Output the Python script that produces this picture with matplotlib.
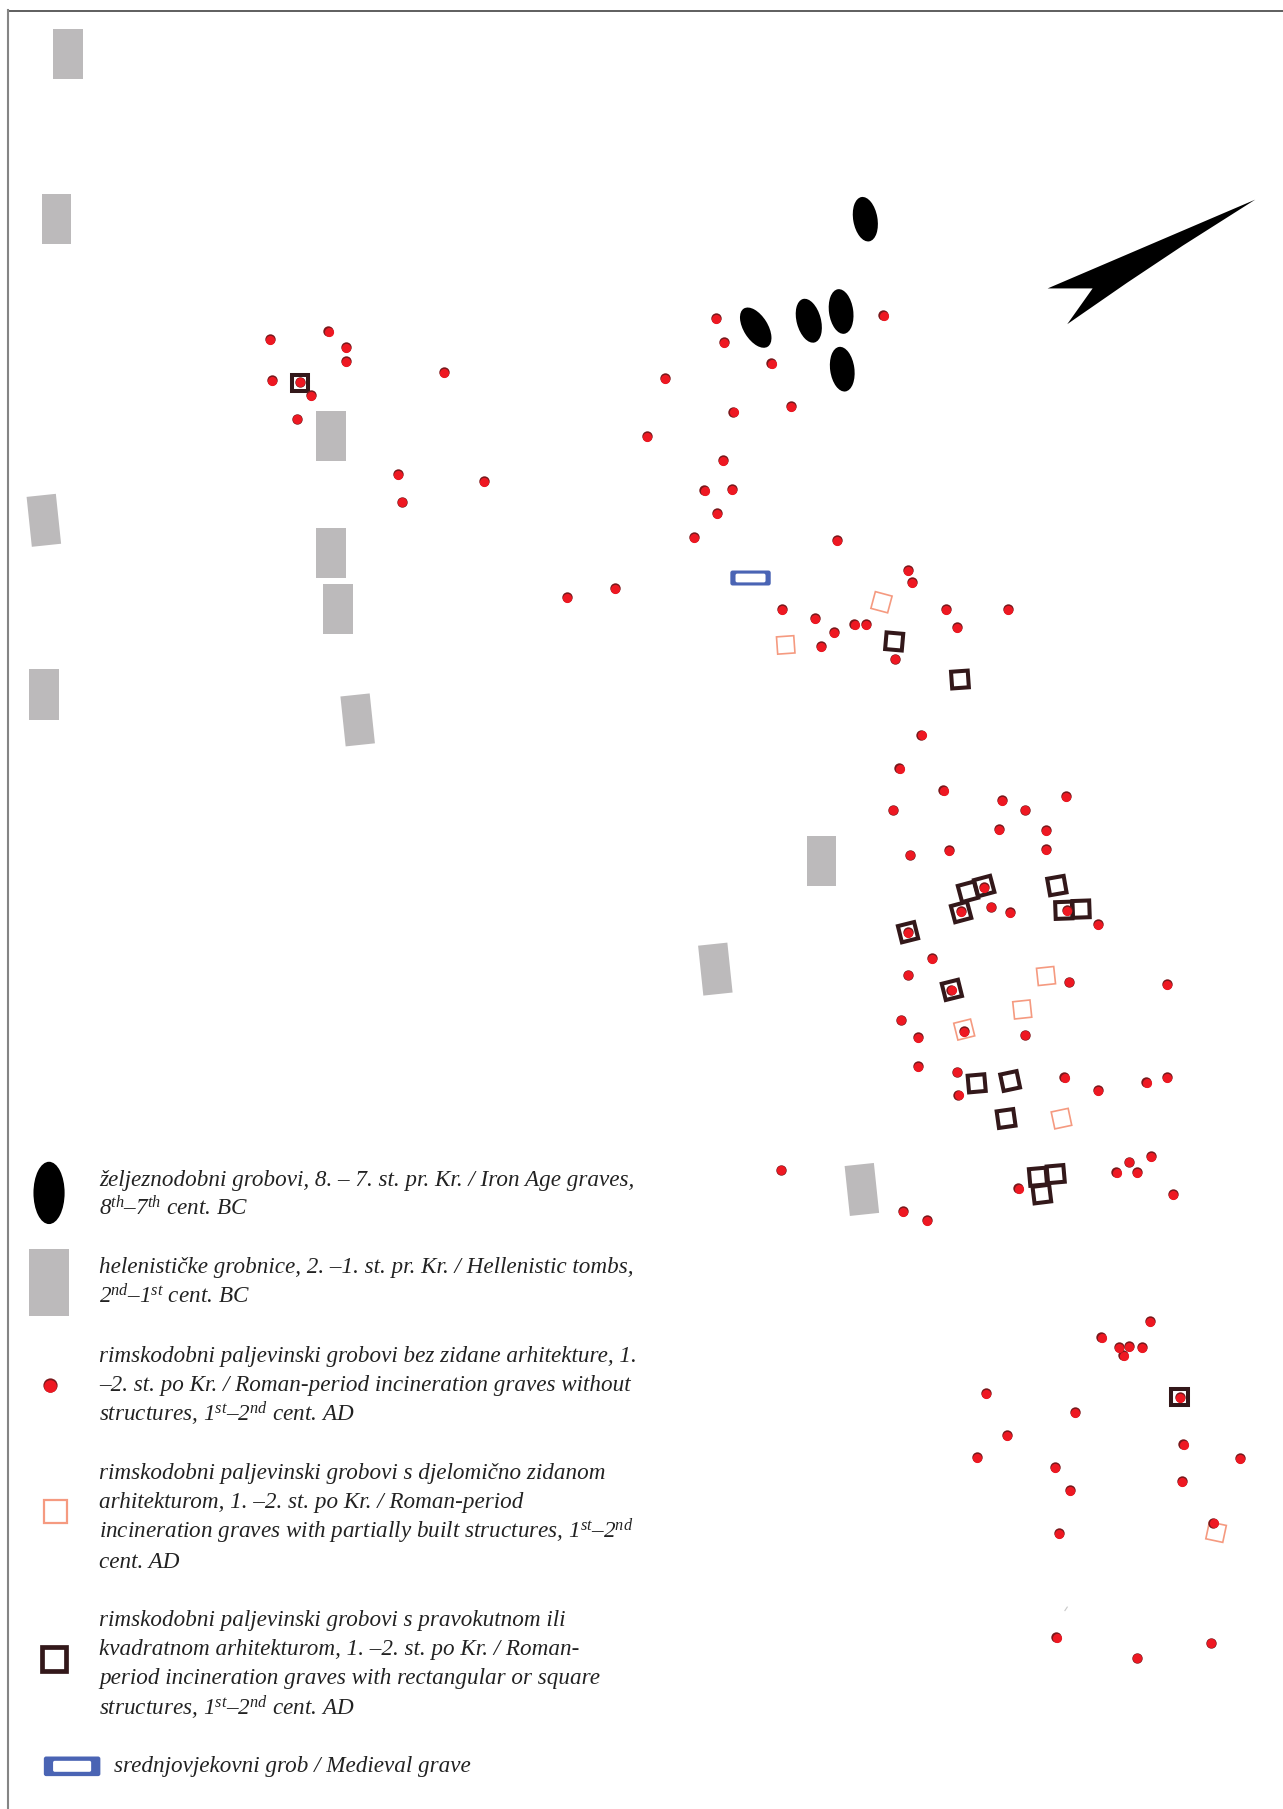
#%% LIBRARIES
import matplotlib
matplotlib.use("Agg")
import matplotlib.pyplot as plt
from matplotlib.patches import Rectangle, Ellipse, Polygon, FancyBboxPatch
from matplotlib.transforms import Affine2D
import numpy as np

plt.rcParams['font.family'] = ['Liberation Serif', 'DejaVu Serif']
plt.rcParams['mathtext.fontset'] = 'custom'
plt.rcParams['mathtext.it'] = 'Liberation Serif:italic'
plt.rcParams['mathtext.rm'] = 'Liberation Serif:italic'
plt.rcParams['mathtext.default'] = 'it'

#%% DATA (map units, origin top left)
dots_x = [234, 285, 300, 300, 236, 260, 270, 258, 385, 345, 349, 420,
          621, 628, 669, 577, 636, 686, 561, 627, 611, 635, 622, 602, 766, 726, 492, 533,
          787, 791, 678, 707, 723, 741, 751, 712, 776, 820, 830, 874,
          799, 780, 818, 774, 869, 889, 924, 866, 907, 907, 789, 823,
          853, 833, 859, 876, 925, 952, 787, 808, 787, 825, 927, 1012, 781, 796, 836, 889,
          796, 830, 831, 923, 952, 994, 1012, 968, 979, 998, 986, 1017, 883, 783, 804, 677,
          997, 955, 970, 979, 990, 974, 855, 932, 1023, 873, 847, 915, 928, 1026, 1075,
          1025, 1052, 918, 916, 986, 1050]
dots_y = [294, 287, 301, 313, 330, 331, 343, 363, 323, 411, 435, 417,
          276, 297, 315, 328, 357, 352, 378, 399, 425, 424, 445, 466, 273, 468, 518, 510,
          494, 505, 528, 536, 548, 541, 541, 560, 571, 528, 544, 528,
          637, 666, 685, 702, 694, 702, 690, 719, 720, 736, 741, 737,
          769, 790, 786, 791, 789, 801, 808, 831, 845, 858, 851, 853, 884, 899, 894, 897,
          924, 929, 949, 934, 945, 938, 934, 1016, 1007, 1002, 1016, 1035, 1030, 1050, 1058, 1014,
          1145, 1159, 1168, 1167, 1168, 1175, 1208, 1224, 1211, 1244, 1263, 1272, 1292, 1252, 1264,
          1284, 1320, 1329, 1419, 1437, 1424]

dark_x = [260, 775, 832, 839, 853, 833, 916, 922, 937, 787, 825, 846.5, 875.5, 872, 899.6, 915, 903, 1022]
dark_y = [332, 556, 589, 773, 768, 790.5, 767.6, 789, 788, 808, 858, 939, 937, 969.5, 1020, 1017.7, 1035, 1211]
dark_ang = [0, 5, -4, -15, -15, -15, -10, -2, -2, -14, -14, -5, -12, -8, -5, -5, -7, 0]

orange_x = [764, 681, 906.6, 886, 835.7, 920, 1054]
orange_y = [522, 559, 846, 875, 892.4, 969.6, 1328]
orange_ang = [15, -4, -6, -6, -14, -12, 12]

tomb_x = [59, 49, 287, 38, 287, 293, 38, 310, 712, 620, 747]
tomb_y = [47, 190, 378, 451, 479, 528, 602, 624, 746, 840, 1031]
tomb_ang = [0, 0, 0, -6, 0, 0, 0, -6, 0, -6, -6]

iron_x = [750, 655, 701, 729, 730]
iron_y = [190, 284, 278, 270, 320]
iron_ang = [-10, -32, -15, -8, -8]

arrow_x = [1088, 908, 947, 925, 977, 1025]
arrow_y = [173, 250, 250, 281, 245, 213]

legend_lines = [
    (86, 1027.7, "željeznodobni grobovi, 8. – 7. st. pr. Kr. / Iron Age graves,"),
    (86, 1053.5, r"8$^{th}$–7$^{th}$ cent. BC"),
    (86, 1103.7, "helenističke grobnice, 2. –1. st. pr. Kr. / Hellenistic tombs,"),
    (86, 1130, r"2$^{nd}$–1$^{st}$ cent. BC"),
    (86, 1180.7, "rimskodobni paljevinski grobovi bez zidane arhitekture, 1."),
    (86, 1205.7, "–2. st. po Kr. / Roman-period incineration graves without"),
    (86, 1231.5, r"structures, 1$^{st}$–2$^{nd}$ cent. AD"),
    (86, 1281.7, "rimskodobni paljevinski grobovi s djelomično zidanom"),
    (86, 1307.5, "arhitekturom, 1. –2. st. po Kr. / Roman-period"),
    (86, 1333.5, r"incineration graves with partially built structures, 1$^{st}$–2$^{nd}$"),
    (86, 1358.7, "cent. AD"),
    (86, 1409.7, "rimskodobni paljevinski grobovi s pravokutnom ili"),
    (86, 1434.7, "kvadratnom arhitekturom, 1. –2. st. po Kr. / Roman-"),
    (86, 1459.7, "period incineration graves with rectangular or square"),
    (86, 1486.5, r"structures, 1$^{st}$–2$^{nd}$ cent. AD"),
    (99, 1536.3, "srednjovjekovni grob / Medieval grave"),
]

#%% COLOURS
GREY = "#bcbabb"
RED = "#ee1822"
DARK = "#33181a"
ORANGE = "#f59a80"
BLUE = "#4a64b4"
TEXT = "#222222"

#%% HELPERS
def square(ax, x, y, size, ang, color, lw):
    r = Rectangle((x - size / 2, y - size / 2), size, size, fill=False, ec=color, lw=lw, joinstyle="miter")
    r.set_transform(Affine2D().rotate_deg_around(x, y, ang) + ax.transData)
    ax.add_patch(r)

def tomb(ax, x, y, w, h, ang):
    r = Rectangle((x - w / 2, y - h / 2), w, h, fc=GREY, ec="none")
    r.set_transform(Affine2D().rotate_deg_around(x, y, ang) + ax.transData)
    ax.add_patch(r)

def medieval(ax, x, y, w_out, h_out, w_in, h_in):
    # blue plate with a white window, the border is wider at the short sides
    ax.add_patch(FancyBboxPatch((x - w_out / 2, y - h_out / 2), w_out, h_out,
                                boxstyle="round,pad=0,rounding_size=2", fc=BLUE, ec="none"))
    ax.add_patch(FancyBboxPatch((x - w_in / 2, y - h_in / 2), w_in, h_in,
                                boxstyle="round,pad=0,rounding_size=1.5", fc="white", ec="none"))

def dots(ax, x, y, s):
    x = np.array(x, dtype=float) - 0.4
    y = np.array(y, dtype=float) - 0.2
    ax.scatter(x, y, s=s, c="#7a181c", linewidths=0, zorder=5)
    ax.scatter(x + 0.2, y + 0.7, s=s * 0.78, c=RED, linewidths=0, zorder=6)

#%% FIGURE
fig = plt.figure(figsize=(12.83, 18.09), dpi=100, facecolor="white")
ax = fig.add_axes([0, 0, 1, 1])
ax.set_xlim(0, 1112)
ax.set_ylim(1568, 0)
ax.axis("off")

# page frame
ax.plot([6.7, 1112], [9.4, 9.4], color="#333333", lw=1.1)
ax.plot([6.7, 6.7], [1568, 9], color="#858585", lw=1.5)

for x, y, a in zip(tomb_x, tomb_y, tomb_ang):
    tomb(ax, x, y, 25.5, 43.5, a)
for x, y, a in zip(iron_x, iron_y, iron_ang):
    ax.add_patch(Ellipse((x, y), 21, 39, angle=a, fc="black", ec="none"))
ax.add_patch(Polygon(np.column_stack([arrow_x, arrow_y]), closed=True, fc="black", ec="none"))

for x, y, a in zip(orange_x, orange_y, orange_ang):
    square(ax, x, y, 15, a, ORANGE, 1.2)
for x, y, a in zip(dark_x, dark_y, dark_ang):
    square(ax, x, y, 14.5, a, DARK, 2.9)
medieval(ax, 650.5, 501, 35, 13, 26, 7.6)
dots(ax, dots_x, dots_y, 56)
ax.plot([923, 925], [1396, 1393], color="#c8c8c8", lw=0.8)

#%% LEGEND
ax.add_patch(Ellipse((42.5, 1034), 27, 54, fc="black", ec="none"))
tomb(ax, 42.5, 1112, 35, 58, 0)
dots(ax, [43.5], [1201], 105)
square(ax, 48, 1310, 20, 0, ORANGE, 1.6)
square(ax, 47, 1438, 20.5, 0, DARK, 3.4)
medieval(ax, 62.5, 1531, 49, 17, 33, 9.5)

for x, y, line in legend_lines:
    ax.text(x, y, line, fontsize=16.7, style="italic", color=TEXT, ha="left", va="baseline")

fig.savefig("out.png", dpi=100)
